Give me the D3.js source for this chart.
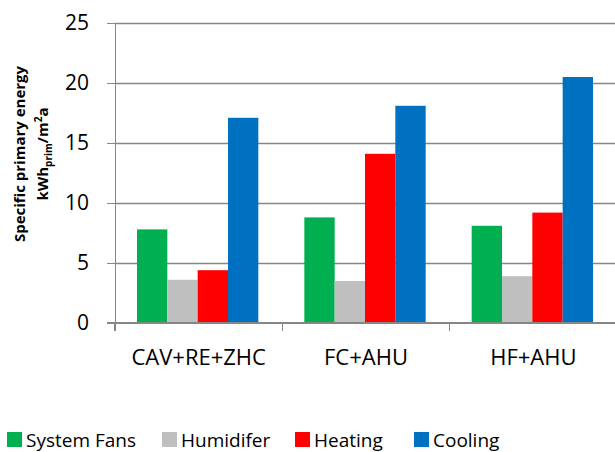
<!DOCTYPE html>
<html lang="en">
<head>
<meta charset="UTF-8">
<title>Specific primary energy</title>
<style>
    body { margin: 0; background: #fff; }
    svg text { font-family: "Open Sans", "Noto Sans", sans-serif; fill: #000; }
    .axis path, .axis line { stroke: #868686; stroke-width: 1.5; shape-rendering: crispEdges; }
    .yaxis text { font-size: 21px; }
    .xaxis text { font-size: 22px; }
</style>
</head>
<body>
<script src="https://cdn.jsdelivr.net/npm/d3@7"></script>
<script>
// data
var categories = ['CAV+RE+ZHC', 'FC+AHU', 'HF+AHU']
var series = ['System Fans', 'Humidifer', 'Heating', 'Cooling']
var systemFans = [7.8, 8.8, 8.1]
var humidifier = [3.6, 3.5, 3.9]
var heating = [4.4, 14.1, 9.2]
var cooling = [17.1, 18.1, 20.5]
var yTicks = [0, 5, 10, 15, 20, 25]
var colors = ['#00B050', '#BFBFBF', '#FF0000', '#0070C0']

var values = [systemFans, humidifier, heating, cooling]

var width = 615, height = 452
var padding = { top: 23, left: 115, bottom: 129, right: -2 }

var svg = d3.select('body').append('svg')
    .attr('width', width)
    .attr('height', height)

var plotW = width - padding.left - padding.right
var plotH = height - padding.top - padding.bottom

var x0 = d3.scaleBand().domain(categories).range([0, plotW])
var x1 = d3.scaleBand().domain(series).range([22, x0.bandwidth() - 24])
var y = d3.scaleLinear().domain([0, 25]).range([plotH, 0])

var g = svg.append('g').attr('transform', 'translate(' + padding.left + ',' + padding.top + ')')

// gridlines
g.selectAll('.grid').data(yTicks.slice(1)).enter().append('line')
    .attr('class', 'grid')
    .attr('x1', 0).attr('x2', plotW)
    .attr('y1', d => Math.round(y(d)) + 0.5).attr('y2', d => Math.round(y(d)) + 0.5)
    .attr('stroke', '#868686').attr('stroke-width', 1.5)

// bars
var groups = g.selectAll('.cat').data(categories).enter().append('g')
    .attr('transform', d => 'translate(' + x0(d) + ',0)')
groups.selectAll('rect')
    .data((d, i) => series.map((s, j) => ({ s: s, v: values[j][i], c: colors[j] })))
    .enter().append('rect')
    .attr('x', d => x1(d.s))
    .attr('width', x1.bandwidth())
    .attr('y', d => y(d.v))
    .attr('height', d => plotH - y(d.v))
    .attr('fill', d => d.c)

// y axis
g.append('g').attr('class', 'axis yaxis')
    .call(d3.axisLeft(y).tickValues(yTicks).tickSize(8).tickPadding(18).tickSizeOuter(0))

// x axis
var xAxis = g.append('g').attr('class', 'axis xaxis')
    .attr('transform', 'translate(0,' + plotH + ')')
    .call(d3.axisBottom(x0).tickSize(0).tickPadding(26))
xAxis.select('.domain').remove()
xAxis.append('line').attr('x1', -8).attr('x2', plotW).attr('y1', 0).attr('y2', 0)
// category divider ticks
xAxis.selectAll('.divtick').data(d3.range(categories.length)).enter().append('line')
    .attr('x1', i => x0.step() * i).attr('x2', i => x0.step() * i)
    .attr('y1', 0).attr('y2', 8)

// y title
var title = svg.append('text')
    .attr('transform', 'translate(25,154) rotate(-90)')
    .attr('text-anchor', 'middle')
    .style('font-size', '15px').style('font-weight', 'bold')
    .text('Specific primary energy')
var t2 = svg.append('text')
    .attr('transform', 'translate(48,154) rotate(-90)')
    .attr('text-anchor', 'middle')
    .style('font-size', '15px').style('font-weight', 'bold')
t2.append('tspan').text('kWh')
t2.append('tspan').attr('dy', 4).style('font-size', '10px').text('prim')
t2.append('tspan').attr('dy', -4).text('/m')
t2.append('tspan').attr('dy', -6).style('font-size', '10px').text('2')
t2.append('tspan').attr('dy', 6).text('a')

// legend
var legendX = [7, 162, 295, 414]
var legend = svg.selectAll('.leg').data(series).enter().append('g')
    .attr('transform', (d, i) => 'translate(' + legendX[i] + ',432)')
legend.append('rect').attr('width', 15).attr('height', 15).attr('fill', (d, i) => colors[i])
legend.append('text').attr('x', 19).attr('y', 15).style('font-size', '19px').text(d => d)
</script>
</body>
</html>
